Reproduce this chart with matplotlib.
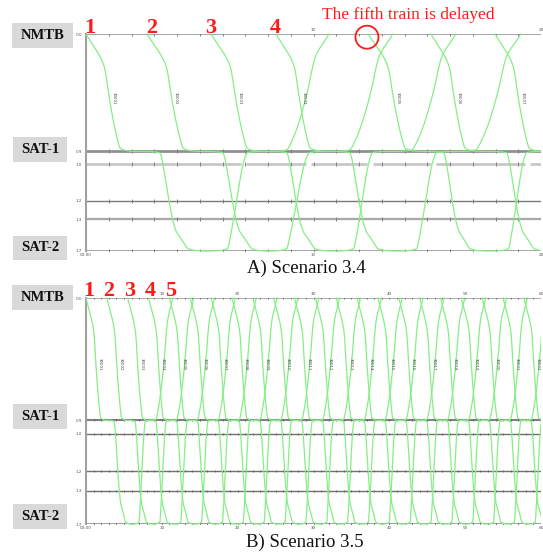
import numpy as np
import matplotlib
matplotlib.use("Agg")
import matplotlib.pyplot as plt
from matplotlib.patches import Rectangle, Circle
import matplotlib.transforms as mtransforms

W, H = 543, 554

# ---------------- data ----------------
track_pos = [0.0, 0.92, 1.02, 1.305, 1.45, 1.70]
track_labels = ["0.0", "0.9", "1.0", "1.2", "1.3", "1.7"]
station_names = ["NMTB", "SAT-1", "SAT-2"]

# event order: NMTB dep, SAT-1 arr, SAT-1 dep, SAT-2 arr, SAT-2 dep, SAT-1 arr, SAT-1 dep, NMTB arr (minutes)
train1_A = [0.00, 1.54, 3.21, 4.53, 6.20, 7.16, 8.79, 10.68]
train2_A = [2.68, 4.31, 5.98, 7.34, 8.79, 9.89, 11.56, 13.49]
train3_A = [5.49, 7.12, 8.79, 10.11, 11.74, 12.66, 14.29, 16.26]
train4_A = [8.35, 9.89, 11.56, 12.88, 14.51, 15.47, 17.10, 19.12]
train5_A = [12.40, 14.07, 15.69, 16.92, 18.55, 19.43, 21.05, 23.00]
train6_A = [15.16, 16.70, 18.46, 19.74, 21.40, 22.40, 24.00, 26.00]
train7_A = [17.98, 19.52, 21.20, 22.50, 24.20, 25.20, 26.80, 28.80]
trains_A = [train1_A, train2_A, train3_A, train4_A, train5_A, train6_A, train7_A]
ids_A = ["30001", "30002", "30003", "30004", "30005", "30006", "30007"]
gaps_A = [(6.81, 7.03), (9.67, 9.89), (12.35, 12.62), (15.16, 15.38), (19.30, 19.52)]

deps_B = [0.0, 2.75, 5.5, 8.25, 11.0, 13.75, 16.5, 19.25, 22.0, 24.75, 27.5,
          30.25, 33.0, 35.75, 38.5, 41.25, 44.0, 46.75, 49.5, 52.25, 55.0, 57.75]
event_offsets_B = [0.0, 1.97, 3.68, 5.26, 6.97, 7.89, 9.21, 11.45]
ids_B = ["300%02d" % (i + 1) for i in range(len(deps_B))]

xticks_A = [0, 10, 20]
xlabels_A = ["00:00", "10", "20"]
xticks_B = [0, 10, 20, 30, 40, 50, 60]
xlabels_B = ["00:00", "10", "20", "30", "40", "50", "60"]

# motion profiles (time fraction, distance fraction)
prof_down1 = ([0, .18, .36, .45, .55, .64, .77, .91, 1], [0, .086, .17, .22, .30, .50, .73, .92, 1])
prof_down2 = ([0, .08, .2, .4, .55, .7, .85, 1], [0, .04, .25, .62, .8, .86, .93, 1])
prof_up2 = ([0, .1, .4, .65, .85, 1], [0, .07, .45, .8, .97, 1])
prof_up1 = ([0, .08, .27, .5, .65, .75, .88, 1], [0, .04, .2, .5, .78, .86, .93, 1])

GREEN = "#86ee86"

fig = plt.figure(figsize=(W / 100, H / 100), dpi=100)
fig.patch.set_facecolor("white")


def chaikin(pts, n):
    for _ in range(n):
        Q = 0.75 * pts[:-1] + 0.25 * pts[1:]
        R = 0.25 * pts[:-1] + 0.75 * pts[1:]
        new = np.empty((2 * len(Q), 2))
        new[0::2] = Q
        new[1::2] = R
        pts = np.vstack([pts[0], new, pts[-1]])
    return pts


def train_path(ev):
    yN, y1, y2 = track_pos[0], track_pos[1], track_pos[5]
    profs = [prof_down1, None, prof_down2, None, prof_up2, None, prof_up1]
    levels = [(yN, y1), (y1, y1), (y1, y2), (y2, y2), (y2, y1), (y1, y1), (y1, yN)]
    T, Y = [], []
    for i in range(7):
        if profs[i] is None:
            t = [ev[i], ev[i + 1]]
            y = [levels[i][0]] * 2
        else:
            tf, df = profs[i]
            t = list(ev[i] + (ev[i + 1] - ev[i]) * np.array(tf))
            y = list(levels[i][0] + (levels[i][1] - levels[i][0]) * np.array(df))
        if i > 0:
            t, y = t[1:], y[1:]
        T += t
        Y += y
    return np.column_stack([T, Y])


def setup_axes(rect, xmax, xticks, xlabels):
    ax = fig.add_axes(rect)
    ax.set_xlim(0, xmax)
    ax.set_ylim(1.70, 0.0)
    for s in ["top", "bottom", "right"]:
        ax.spines[s].set_visible(False)
    ax.spines["left"].set_color("#a0a0a0")
    ax.spines["left"].set_linewidth(1.5)
    ax.set_xticks(xticks)
    ax.set_xticklabels(xlabels)
    ax.set_yticks(track_pos)
    ax.set_yticklabels(track_labels)
    ax.tick_params(axis="x", labeltop=True, top=False, bottom=False, length=0, pad=1.5,
                   labelsize=3, labelcolor="#555555")
    ax.tick_params(axis="y", left=False, length=0, pad=3, labelsize=3, labelcolor="#555555")
    # the top-left corner label sits under the red train number; keep only the bottom one
    ax.xaxis.get_major_ticks()[0].label2.set_visible(False)
    return ax


def draw_trains(ax, paths, n_smooth, ids, label_times):
    clip = Rectangle((0, -0.05), 1, 1.1, transform=ax.transAxes, fill=False)
    for p in paths:
        p = chaikin(p, n_smooth)
        ln, = ax.plot(p[:, 0], p[:, 1], color=GREEN, lw=0.9, zorder=5)
        ln.set_clip_path(clip)
    off = mtransforms.offset_copy(ax.transData, fig=fig, x=1.5, y=0, units="points")
    for tid, tx in zip(ids, label_times):
        ax.text(tx, 0.50, tid, rotation=-90, fontsize=2.8, color="#444444",
                ha="left", va="center", transform=off, zorder=6)


# ---------------- panel A ----------------
axA = setup_axes([86 / W, 1 - 251 / H, 455 / W, 217 / H], 20, xticks_A, xlabels_A)
styles_A = [("#a8a8a8", 1.5), ("#909090", 2.0), ("#c8c8c8", 2.0),
            ("#7a7a7a", 1.0), ("#a8a8a8", 1.6), ("#a0a0a0", 1.3)]
for i, (yv, (c, lw)) in enumerate(zip(track_pos, styles_A)):
    if i == 2:
        edges = [0] + [g for gap in gaps_A for g in gap] + [20]
        for a, b in zip(edges[0::2], edges[1::2]):
            axA.plot([a, b], [yv, yv], color=c, lw=lw, solid_capstyle="butt", zorder=2)
    else:
        axA.axhline(yv, color=c, lw=lw, zorder=2)
    mins = np.arange(1, 20)
    axA.plot(mins, [yv] * len(mins), ls="none", marker="|", ms=2.2, mew=0.7,
             color="#808080", zorder=3)

tfA = np.interp(0.55, prof_down1[1], prof_down1[0])
pathsA = [train_path(ev) for ev in trains_A]
labelsA = [ev[0] + tfA * (ev[1] - ev[0]) for ev in trains_A]
draw_trains(axA, pathsA, 2, ids_A, labelsA)

# ---------------- panel B ----------------
axB = setup_axes([86 / W, 1 - 524 / H, 455 / W, 226 / H], 60, xticks_B, xlabels_B)
styles_B = [("#a0a0a0", 1.2), ("#808080", 1.5), ("#707070", 1.0),
            ("#707070", 1.0), ("#707070", 1.0), ("#909090", 1.2)]
for yv, (c, lw) in zip(track_pos, styles_B):
    axB.axhline(yv, color=c, lw=lw, zorder=2)
    mins = np.arange(1, 60)
    axB.plot(mins, [yv] * len(mins), ls="none", marker="|", ms=1.8, mew=0.6,
             color="#606060", zorder=3)

trains_B = [[d + o for o in event_offsets_B] for d in deps_B]
pathsB = [train_path(ev) for ev in trains_B]
labelsB = [ev[0] + tfA * (ev[1] - ev[0]) for ev in trains_B]
draw_trains(axB, pathsB, 1, ids_B, labelsB)

# ---------------- station boxes ----------------
boxes = [("NMTB", 12, 23, 73, 48), ("SAT-1", 13, 137, 67, 162), ("SAT-2", 13, 236, 67, 260),
         ("NMTB", 12, 285, 73, 310), ("SAT-1", 13, 404, 67, 429), ("SAT-2", 13, 504, 67, 529)]
for name, x0, y0, x1, y1 in boxes:
    fig.add_artist(Rectangle((x0 / W, 1 - y1 / H), (x1 - x0) / W, (y1 - y0) / H,
                             transform=fig.transFigure, facecolor="#d9d9d9", edgecolor="none"))
    fig.text((x0 + x1) / 2 / W, 1 - (y0 + y1) / 2 / H, name, ha="center", va="center",
             fontsize=10.5, fontweight="bold", family="Liberation Serif", color="#111111")

# ---------------- red annotations ----------------
red = "#ff1a1a"
for num, x in zip(["1", "2", "3", "4"], [90, 152, 211, 275]):
    fig.text(x / W, 1 - 28 / H, num, ha="center", va="center", fontsize=16,
             fontweight="bold", family="Liberation Serif", color=red)
for num, x in zip(["1", "2", "3", "4", "5"], [89, 109, 130, 150, 171]):
    fig.text(x / W, 1 - 291 / H, num, ha="center", va="center", fontsize=16,
             fontweight="bold", family="Liberation Serif", color=red)
fig.text(408 / W, 1 - 15 / H, "The fifth train is delayed", ha="center", va="center",
         fontsize=12.5, family="Liberation Serif", color=red)
cx, cy = axA.transData.transform((train5_A[0] - 0.05, 0.025))
fig.add_artist(Circle((cx, cy), 11.5, transform=mtransforms.IdentityTransform(),
                      fill=False, edgecolor=red, lw=1.3))

# ---------------- captions ----------------
fig.text(306 / W, 1 - 268 / H, "A) Scenario 3.4", ha="center", va="center",
         fontsize=13.5, family="Liberation Serif", color="#111111")
fig.text(305 / W, 1 - 542 / H, "B) Scenario 3.5", ha="center", va="center",
         fontsize=13.5, family="Liberation Serif", color="#111111")

fig.savefig("out.png", dpi=100, facecolor="white")
